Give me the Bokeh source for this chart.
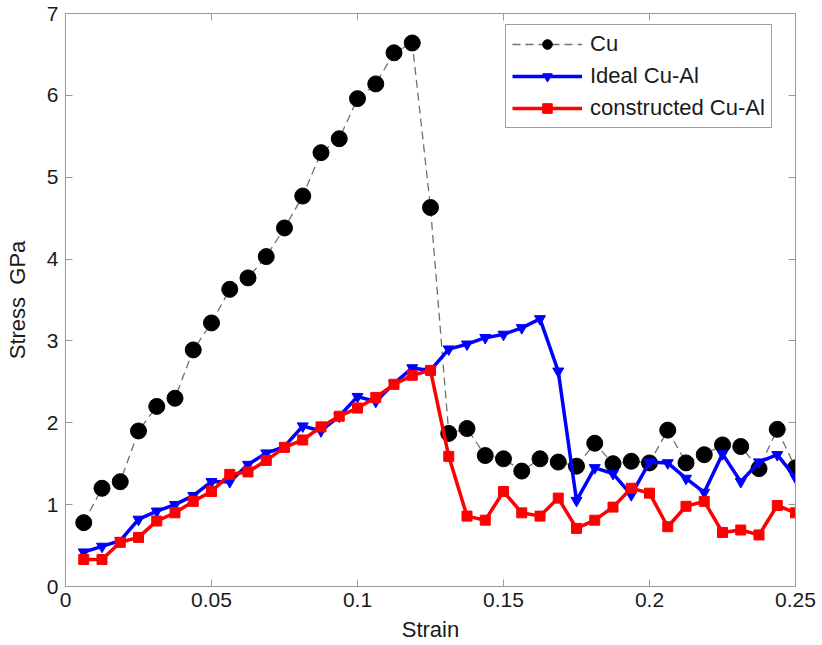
from bokeh.plotting import figure
from bokeh.models import (Range1d, FixedTicker, NumeralTickFormatter, LinearAxis,
                          Legend)
from bokeh.embed import file_html
from bokeh.resources import INLINE

# Strain steps and stress responses (GPa)
strain = [0.00625, 0.0125, 0.01875, 0.025, 0.03125, 0.0375, 0.04375, 0.05,
          0.05625, 0.0625, 0.06875, 0.075, 0.08125, 0.0875, 0.09375, 0.1,
          0.10625, 0.1125, 0.11875, 0.125, 0.13125, 0.1375, 0.14375, 0.15,
          0.15625, 0.1625, 0.16875, 0.175, 0.18125, 0.1875, 0.19375, 0.2,
          0.20625, 0.2125, 0.21875, 0.225, 0.23125, 0.2375, 0.24375, 0.25]

stress_cu = [0.78, 1.20, 1.28, 1.90, 2.20, 2.30, 2.89, 3.22, 3.63, 3.77,
             4.03, 4.38, 4.77, 5.30, 5.47, 5.96, 6.14, 6.52, 6.64, 4.63,
             1.87, 1.93, 1.60, 1.56, 1.41, 1.56, 1.52, 1.47, 1.75, 1.50,
             1.53, 1.51, 1.91, 1.51, 1.61, 1.73, 1.71, 1.44, 1.92, 1.45]

stress_ideal = [0.42, 0.49, 0.56, 0.82, 0.92, 1.00, 1.11, 1.28, 1.28, 1.49,
                1.63, 1.71, 1.96, 1.90, 2.08, 2.32, 2.26, 2.48, 2.67, 2.64,
                2.90, 2.96, 3.04, 3.08, 3.16, 3.27, 2.63, 1.05, 1.45, 1.38,
                1.12, 1.52, 1.51, 1.32, 1.15, 1.62, 1.28, 1.52, 1.61, 1.33]

stress_constructed = [0.33, 0.33, 0.54, 0.60, 0.80, 0.90, 1.04, 1.16, 1.37, 1.40,
                      1.54, 1.70, 1.79, 1.95, 2.08, 2.18, 2.31, 2.47, 2.58, 2.64,
                      1.59, 0.86, 0.81, 1.16, 0.90, 0.86, 1.08, 0.71, 0.81, 0.97,
                      1.20, 1.14, 0.73, 0.98, 1.04, 0.66, 0.69, 0.63, 0.99, 0.90]

x_ticks = [0, 0.05, 0.1, 0.15, 0.2, 0.25]
y_ticks = [0, 1, 2, 3, 4, 5, 6, 7]

FONT = "Liberation Sans"
TEXT = "#1a1a1a"
AXIS = "#9a9a9a"

p = figure(width=822, height=645, output_backend="svg", toolbar_location=None,
           x_range=Range1d(0, 0.25), y_range=Range1d(0, 7),
           min_border_left=65, min_border_right=27, min_border_top=13,
           min_border_bottom=59, background_fill_color="white",
           border_fill_color="white")
p.grid.visible = False
p.outline_line_color = AXIS
p.outline_line_width = 1

for ax in (p.xaxis[0], p.yaxis[0]):
    ax.axis_line_color = AXIS
    ax.major_tick_line_color = AXIS
    ax.major_tick_in = 7
    ax.major_tick_out = 0
    ax.minor_tick_line_color = None
    ax.major_label_text_font = FONT
    ax.major_label_text_font_size = "21px"
    ax.major_label_text_color = TEXT
    ax.axis_label_text_font = FONT
    ax.axis_label_text_font_size = "22px"
    ax.axis_label_text_font_style = "normal"
    ax.axis_label_text_color = TEXT

p.xaxis.ticker = FixedTicker(ticks=x_ticks)
p.xaxis.formatter = NumeralTickFormatter(format="0.[00]")
p.xaxis.axis_label = "Strain"
p.xaxis.major_label_standoff = 6
p.xaxis.axis_label_standoff = 7

p.yaxis.ticker = FixedTicker(ticks=y_ticks)
p.yaxis.axis_label = "Stress\u00a0\u00a0GPa"
p.yaxis.major_label_standoff = 7
p.yaxis.axis_label_standoff = 14

# tick marks on the opposite sides of the box (no labels there)
top_axis = LinearAxis(ticker=FixedTicker(ticks=x_ticks))
right_axis = LinearAxis(ticker=FixedTicker(ticks=y_ticks))
for ax in (top_axis, right_axis):
    ax.axis_line_color = AXIS
    ax.major_tick_line_color = AXIS
    ax.major_tick_in = 7
    ax.major_tick_out = 0
    ax.minor_tick_line_color = None
    ax.major_label_text_font_size = "1px"
    ax.major_label_text_color = None
    ax.major_label_standoff = 0
p.add_layout(top_axis, "above")
p.add_layout(right_axis, "right")

# Cu: dashed grey line with black circles
cu_line = p.line(strain, stress_cu, line_color="#707070", line_width=1.3,
                 line_dash="8 5")
cu_pts = p.scatter(strain, stress_cu, marker="circle", size=16,
                   fill_color="black", line_color="black")

# Ideal Cu-Al: blue line with downward triangles
id_line = p.line(strain, stress_ideal, line_color="#0000ff", line_width=3.5)
id_pts = p.scatter(strain, stress_ideal, marker="inverted_triangle", size=11,
                   fill_color="#0000ff", line_color="#0000ff")

# constructed Cu-Al: red line with squares
cn_line = p.line(strain, stress_constructed, line_color="#ff0000", line_width=3.5)
cn_pts = p.scatter(strain, stress_constructed, marker="square", size=10,
                   fill_color="#ff0000", line_color="#ff0000")

legend = Legend(items=[("Cu", [cu_line, cu_pts]),
                       ("Ideal Cu-Al", [id_line, id_pts]),
                       ("constructed Cu-Al", [cn_line, cn_pts])],
                location=(440, 458))
legend.label_text_font = FONT
legend.label_text_font_size = "22px"
legend.label_text_color = TEXT
legend.glyph_width = 70
legend.glyph_height = 24
legend.label_height = 24
legend.label_standoff = 8
legend.spacing = 6
legend.padding = 6
legend.border_line_color = "#404040"
legend.border_line_width = 1
legend.background_fill_color = "white"
legend.background_fill_alpha = 1
p.add_layout(legend, "center")

open("out.html", "w").write(file_html(p, INLINE))
